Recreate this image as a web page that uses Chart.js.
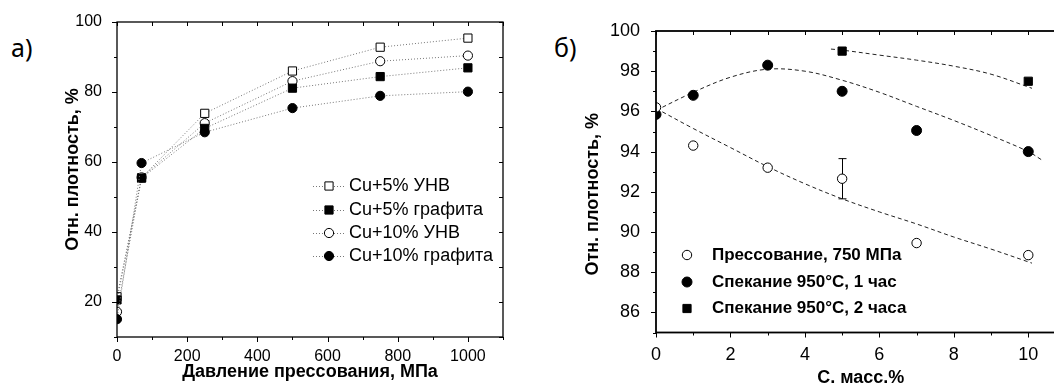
<!DOCTYPE html>
<html>
<head>
<meta charset="utf-8">
<script src="https://cdn.jsdelivr.net/npm/chart.js@4"></script>
<style>
  html, body { margin: 0; padding: 0; background: #fff; width: 1054px; height: 383px; overflow: hidden; position: relative; }
  canvas { position: absolute; top: 0; }
  #c1 { left: 0; }
  #c2 { left: 560px; }
  .tag { position: absolute; font-family: "Noto Sans", sans-serif; font-size: 25px; color: #000; }
</style>
</head>
<body>
<div class="tag" style="left:11px; top:30px;">а)</div>
<div class="tag" style="left:554px; top:30px;">б)</div>
<canvas id="c1" width="530" height="383"></canvas>
<canvas id="c2" width="520" height="400"></canvas>
<script>
// ---- left chart data (a) ----
const pressure = [0, 70, 250, 500, 750, 1000];
const cu5Cnf = [21.5, 55.5, 73.9, 86, 92.8, 95.4];
const cu5Graphite = [20.6, 55.4, 69.6, 81.1, 84.4, 86.9];
const cu10Cnf = [17.2, 55.6, 71.1, 83.1, 88.8, 90.4];
const cu10Graphite = [15.1, 59.7, 68.5, 75.4, 78.9, 80.1];
const leftNames = ['Cu+5% УНВ', 'Cu+5% графита', 'Cu+10% УНВ', 'Cu+10% графита'];

// ---- right chart data (б) ----
const carbon = [0, 1, 3, 5, 7, 10];
const pressed = [96.2, 94.3, 93.2, 92.65, 89.45, 88.85];
const pressedErr = [0, 0, 0, 1.0, 0, 0];
const sintered1h = [95.85, 96.8, 98.3, 97.0, 95.05, 94.0];
const carbon2h = [5, 10];
const sintered2h = [99.0, 97.5];
// fitted curves
const fitPressX = [0, 1, 2, 3, 4, 5, 6, 7, 8, 9, 10.1];
const fitPressY = [96.15, 95.15, 94.2, 93.25, 92.4, 91.65, 91.0, 90.4, 89.75, 89.15, 88.45];
const fit1hX = [0, 1, 2, 3, 4, 5, 6, 7, 8, 9, 10, 10.35];
const fit1hY = [96.05, 96.95, 97.7, 98.1, 98.0, 97.55, 96.95, 96.25, 95.55, 94.8, 94.0, 93.6];
const fit2hX = [4.7, 5, 6, 7, 8, 9, 10.1];
const fit2hY = [99.1, 99.05, 98.8, 98.55, 98.25, 97.85, 97.15];
const rightNames = ['Прессование, 750 МПа', 'Спекание 950°C, 1 час', 'Спекание 950°C, 2 часа'];

const FONT = '"Liberation Sans", Arial, sans-serif';
Chart.defaults.font.family = FONT;
Chart.defaults.color = '#000';

const xy = (xs, ys) => xs.map((x, i) => ({x: x, y: ys[i]}));

// frame around chart area + tick marks (outward on left/bottom, inward on top/right)
const frameTicks = {
  id: 'frameTicks',
  afterDraw(chart, args, opts) {
    const {ctx, chartArea: a} = chart;
    const x = chart.scales.x, y = chart.scales.y;
    ctx.save();
    ctx.strokeStyle = '#000';
    ctx.lineWidth = 1;
    ctx.beginPath();
    x.ticks.forEach(t => {
      const px = Math.round(x.getPixelForValue(t.value)) + 0.5;
      const len = t.label !== '' ? opts.major : opts.minor;
      ctx.moveTo(px, a.bottom); ctx.lineTo(px, a.bottom + len);
      ctx.moveTo(px, a.top); ctx.lineTo(px, a.top + opts.inner);
    });
    y.ticks.forEach(t => {
      const py = Math.round(y.getPixelForValue(t.value)) + 0.5;
      const len = t.label !== '' ? opts.major : opts.minor;
      ctx.moveTo(a.left, py); ctx.lineTo(a.left - len, py);
      ctx.moveTo(a.right, py); ctx.lineTo(a.right - opts.inner, py);
    });
    ctx.stroke();
    ctx.lineWidth = opts.width;
    ctx.strokeRect(a.left, a.top, a.right - a.left, a.bottom - a.top);
    ctx.restore();
  }
};

// vertical error bars, from dataset.yErr
const errorBars = {
  id: 'errorBars',
  beforeDatasetsDraw(chart) {
    const {ctx} = chart;
    const y = chart.scales.y;
    chart.data.datasets.forEach((ds, i) => {
      if (!ds.yErr) return;
      const meta = chart.getDatasetMeta(i);
      ds.data.forEach((d, j) => {
        const e = ds.yErr[j];
        if (!e) return;
        const px = Math.round(meta.data[j].x) + 0.5;
        const top = y.getPixelForValue(d.y + e);
        const bot = y.getPixelForValue(d.y - e);
        ctx.save();
        ctx.strokeStyle = '#000';
        ctx.lineWidth = 1;
        ctx.beginPath();
        ctx.moveTo(px, top); ctx.lineTo(px, bot);
        ctx.moveTo(px - 4, top); ctx.lineTo(px + 4, top);
        ctx.moveTo(px - 4, bot); ctx.lineTo(px + 4, bot);
        ctx.stroke();
        ctx.restore();
      });
    });
  }
};

// legend drawn inside the plot
const boxLegend = {
  id: 'boxLegend',
  afterDraw(chart, args, o) {
    const {ctx} = chart;
    ctx.save();
    o.items.forEach((it, i) => {
      const ds = chart.data.datasets[it];
      const cy = o.rows[i];
      if (o.line) {
        ctx.strokeStyle = ds.borderColor;
        ctx.lineWidth = 1;
        ctx.setLineDash(ds.borderDash || []);
        ctx.beginPath();
        ctx.moveTo(o.lineFrom, cy + 0.5); ctx.lineTo(o.lineTo, cy + 0.5);
        ctx.stroke();
        ctx.setLineDash([]);
      }
      ctx.fillStyle = ds.pointBackgroundColor;
      ctx.strokeStyle = ds.pointBorderColor;
      ctx.lineWidth = 1;
      Chart.helpers.drawPoint(ctx, {pointStyle: ds.pointStyle, radius: ds.pointRadius, rotation: 0, borderWidth: 1}, o.markerX, cy);
      ctx.fillStyle = '#000';
      ctx.font = o.font;
      ctx.textBaseline = 'middle';
      ctx.textAlign = 'left';
      ctx.fillText(o.names[i], o.textX, cy);
    });
    ctx.restore();
  }
};

function marker(style, filled, r) {
  return {
    pointStyle: style,
    pointRadius: r,
    pointBorderColor: '#000',
    pointBackgroundColor: filled ? '#000' : '#fff',
    pointBorderWidth: 1
  };
}

function ticksEvery(labelStep) {
  return v => (Math.abs(v / labelStep - Math.round(v / labelStep)) < 1e-6 ? String(v) : '');
}

// ---------- chart a) ----------
const dotLine = {showLine: true, borderColor: '#777', borderWidth: 1, borderDash: [1, 2], tension: 0};
new Chart(document.getElementById('c1'), {
  type: 'scatter',
  data: {
    datasets: [
      Object.assign({label: leftNames[0], data: xy(pressure, cu5Cnf), order: 4}, dotLine, marker('rect', false, 5.8)),
      Object.assign({label: leftNames[1], data: xy(pressure, cu5Graphite), order: 2}, dotLine, marker('rect', true, 5.8)),
      Object.assign({label: leftNames[2], data: xy(pressure, cu10Cnf), order: 3}, dotLine, marker('circle', false, 4.6)),
      Object.assign({label: leftNames[3], data: xy(pressure, cu10Graphite), order: 1}, dotLine, marker('circle', true, 4.6))
    ]
  },
  options: {
    responsive: false,
    animation: false,
    devicePixelRatio: 1,
    layout: {padding: {top: 22, right: 27, left: 0, bottom: 0}},
    plugins: {
      legend: {display: false},
      tooltip: {enabled: false},
      frameTicks: {major: 5, minor: 3, inner: 4, width: 1.3},
      boxLegend: {
        items: [0, 1, 2, 3], names: leftNames, line: true,
        rows: [186, 210, 233, 256], markerX: 329, lineFrom: 313, lineTo: 345, textX: 349,
        font: '18px ' + FONT
      }
    },
    scales: {
      x: {
        type: 'linear', min: 0, max: 1100,
        grid: {display: false}, border: {display: false},
        ticks: {stepSize: 100, autoSkip: false, maxRotation: 0, padding: 2, font: {size: 16}, callback: ticksEvery(200)},
        title: {display: true, text: 'Давление прессования, МПа', font: {size: 18, weight: 'bold'}, padding: {top: 0, bottom: 0}},
        afterFit: s => { s.height = 46; }
      },
      y: {
        type: 'linear', min: 10, max: 100,
        grid: {display: false}, border: {display: false},
        ticks: {stepSize: 10, autoSkip: false, padding: 7, font: {size: 16}, callback: ticksEvery(20)},
        title: {display: true, text: '    Отн. плотность, %', font: {size: 18, weight: 'bold'}, padding: {top: 62, bottom: 0}},
        afterFit: s => { s.width = 117; }
      }
    }
  },
  plugins: [frameTicks, boxLegend]
});

// ---------- chart б) ----------
const fitLine = {showLine: true, borderColor: '#222', borderWidth: 1, borderDash: [4, 3], tension: 0.35, pointRadius: 0};
new Chart(document.getElementById('c2'), {
  type: 'scatter',
  data: {
    datasets: [
      Object.assign({label: rightNames[0], data: xy(carbon, pressed), yErr: pressedErr, showLine: false}, marker('circle', false, 4.7)),
      Object.assign({label: rightNames[1], data: xy(carbon, sintered1h), showLine: false}, marker('circle', true, 5)),
      Object.assign({label: rightNames[2], data: xy(carbon2h, sintered2h), showLine: false}, marker('rect', true, 5.8)),
      Object.assign({label: 'fit1', data: xy(fitPressX, fitPressY)}, fitLine),
      Object.assign({label: 'fit2', data: xy(fit1hX, fit1hY)}, fitLine),
      Object.assign({label: 'fit3', data: xy(fit2hX, fit2hY)}, fitLine)
    ]
  },
  options: {
    responsive: false,
    animation: false,
    devicePixelRatio: 1,
    layout: {padding: {top: 31, right: 14.5, left: 0, bottom: 0}},
    plugins: {
      legend: {display: false},
      tooltip: {enabled: false},
      frameTicks: {major: 5, minor: 3, inner: 4, width: 1.8},
      boxLegend: {
        items: [0, 1, 2], names: rightNames, line: false,
        rows: [255, 282, 308.5], markerX: 127, textX: 152,
        font: 'bold 17px ' + FONT
      }
    },
    scales: {
      x: {
        type: 'linear', min: 0, max: 11,
        grid: {display: false}, border: {display: false},
        ticks: {stepSize: 1, autoSkip: false, maxRotation: 0, padding: 4, font: {size: 18}, callback: ticksEvery(2)},
        title: {display: true, text: 'С, масс.%', font: {size: 18, weight: 'bold'}, padding: {top: 0, bottom: 11}},
        afterFit: s => { s.height = 67.5; }
      },
      y: {
        type: 'linear', min: 85, max: 100,
        grid: {display: false}, border: {display: false},
        ticks: {stepSize: 1, autoSkip: false, padding: 8, font: {size: 18}, callback: ticksEvery(2)},
        title: {display: true, text: 'Отн. плотность, %     ', font: {size: 18, weight: 'bold'}, padding: {top: 22, bottom: 0}},
        afterFit: s => { s.width = 96; }
      }
    }
  },
  plugins: [frameTicks, errorBars, boxLegend]
});
</script>
</body>
</html>
